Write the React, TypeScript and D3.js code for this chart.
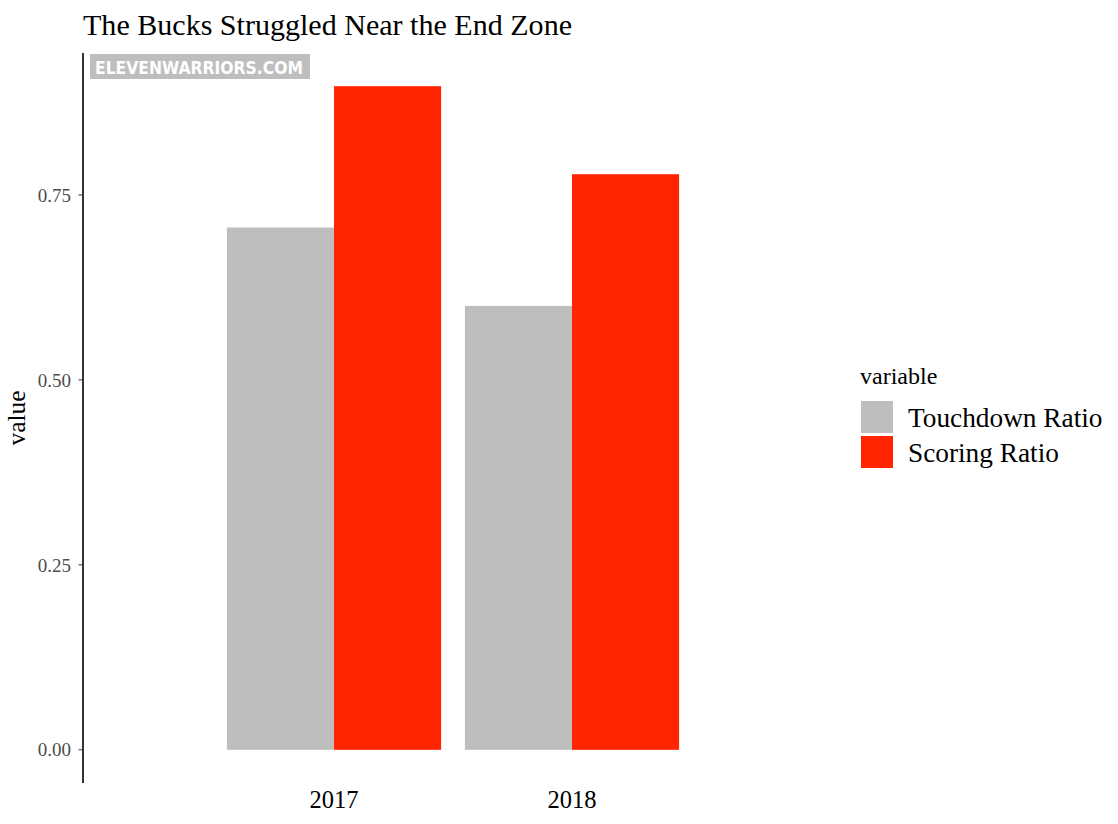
import React from "react";
import * as d3 from "d3";

const years = ["2017", "2018"];
const variables = ["Touchdown Ratio", "Scoring Ratio"];
const touchdownRatio = [0.706, 0.6];
const scoringRatio = [0.897, 0.778];
const yTicks = [0, 0.25, 0.5, 0.75];
const colors = ["#bebebe", "#ff2500"];

const W = 1118;
const H = 824;
const FONT = "'Liberation Serif', 'Times New Roman', serif";

export default function App() {
  const series = [touchdownRatio, scoringRatio];
  const maxV = d3.max(series.flat()) as number;
  const pad = maxV * 0.05;
  const panel = { left: 83, right: 823, top: 53, bottom: 783 };

  const y = d3
    .scaleLinear()
    .domain([-pad, maxV + pad])
    .range([panel.bottom, panel.top]);

  const x = d3
    .scaleBand<string>()
    .domain(years)
    .range([panel.left, panel.right])
    .paddingInner(0.1)
    .paddingOuter(0.6046);

  const xInner = d3
    .scaleBand<string>()
    .domain(variables)
    .range([0, x.bandwidth()]);

  return (
    <svg
      width={W}
      height={H}
      style={{ position: "absolute", left: 0, top: 0, background: "#fff" }}
      fontFamily={FONT}
    >
      <rect x={0} y={0} width={W} height={H} fill="#fff" />
      <text x={83} y={35} fontSize={30} fill="#000" textLength={489} lengthAdjust="spacingAndGlyphs">
        The Bucks Struggled Near the End Zone
      </text>

      {/* bars */}
      {years.map((yr, i) =>
        variables.map((v, j) => {
          const val = series[j][i];
          return (
            <rect
              key={yr + v}
              x={(x(yr) as number) + (xInner(v) as number)}
              y={y(val)}
              width={xInner.bandwidth()}
              height={y(0) - y(val)}
              fill={colors[j]}
            />
          );
        })
      )}

      {/* watermark */}
      <rect x={90} y={54} width={220} height={25} fill="#bebebe" />
      <text
        x={95}
        y={73.5}
        fontFamily="'DejaVu Sans Condensed', 'DejaVu Sans', sans-serif"
        fontWeight="bold"
        fontSize={18}
        textLength={208}
        lengthAdjust="spacingAndGlyphs"
        fill="#fff"
      >
        ELEVENWARRIORS.COM
      </text>

      {/* y axis */}
      <line
        x1={panel.left}
        x2={panel.left}
        y1={panel.top}
        y2={panel.bottom}
        stroke="#000"
        strokeWidth={1.6}
      />
      {yTicks.map((t) => (
        <g key={t}>
          <line
            x1={panel.left - 4.5}
            x2={panel.left}
            y1={y(t)}
            y2={y(t)}
            stroke="#333"
            strokeWidth={1}
          />
          <text
            x={panel.left - 12}
            y={y(t)}
            dy="0.35em"
            textAnchor="end"
            fontSize={19}
            fill="#4d4d4d"
          >
            {d3.format(".2f")(t)}
          </text>
        </g>
      ))}
      <text
        transform={`translate(25,${(panel.top + panel.bottom) / 2}) rotate(-90)`}
        textAnchor="middle"
        fontSize={25.5}
        fill="#000"
      >
        value
      </text>

      {/* x labels */}
      {years.map((yr) => (
        <text
          key={yr}
          x={(x(yr) as number) + x.bandwidth() / 2}
          y={808}
          textAnchor="middle"
          fontSize={24.5}
          fill="#000"
        >
          {yr}
        </text>
      ))}

      {/* legend */}
      <text x={860} y={384} fontSize={24} fill="#000">
        variable
      </text>
      {variables.map((v, j) => (
        <g key={v} transform={`translate(861,${401 + j * 35})`}>
          <rect width={32} height={32} fill={colors[j]} />
          <text x={47} y={16} dy="0.35em" fontSize={27.3} fill="#000">
            {v}
          </text>
        </g>
      ))}
    </svg>
  );
}
